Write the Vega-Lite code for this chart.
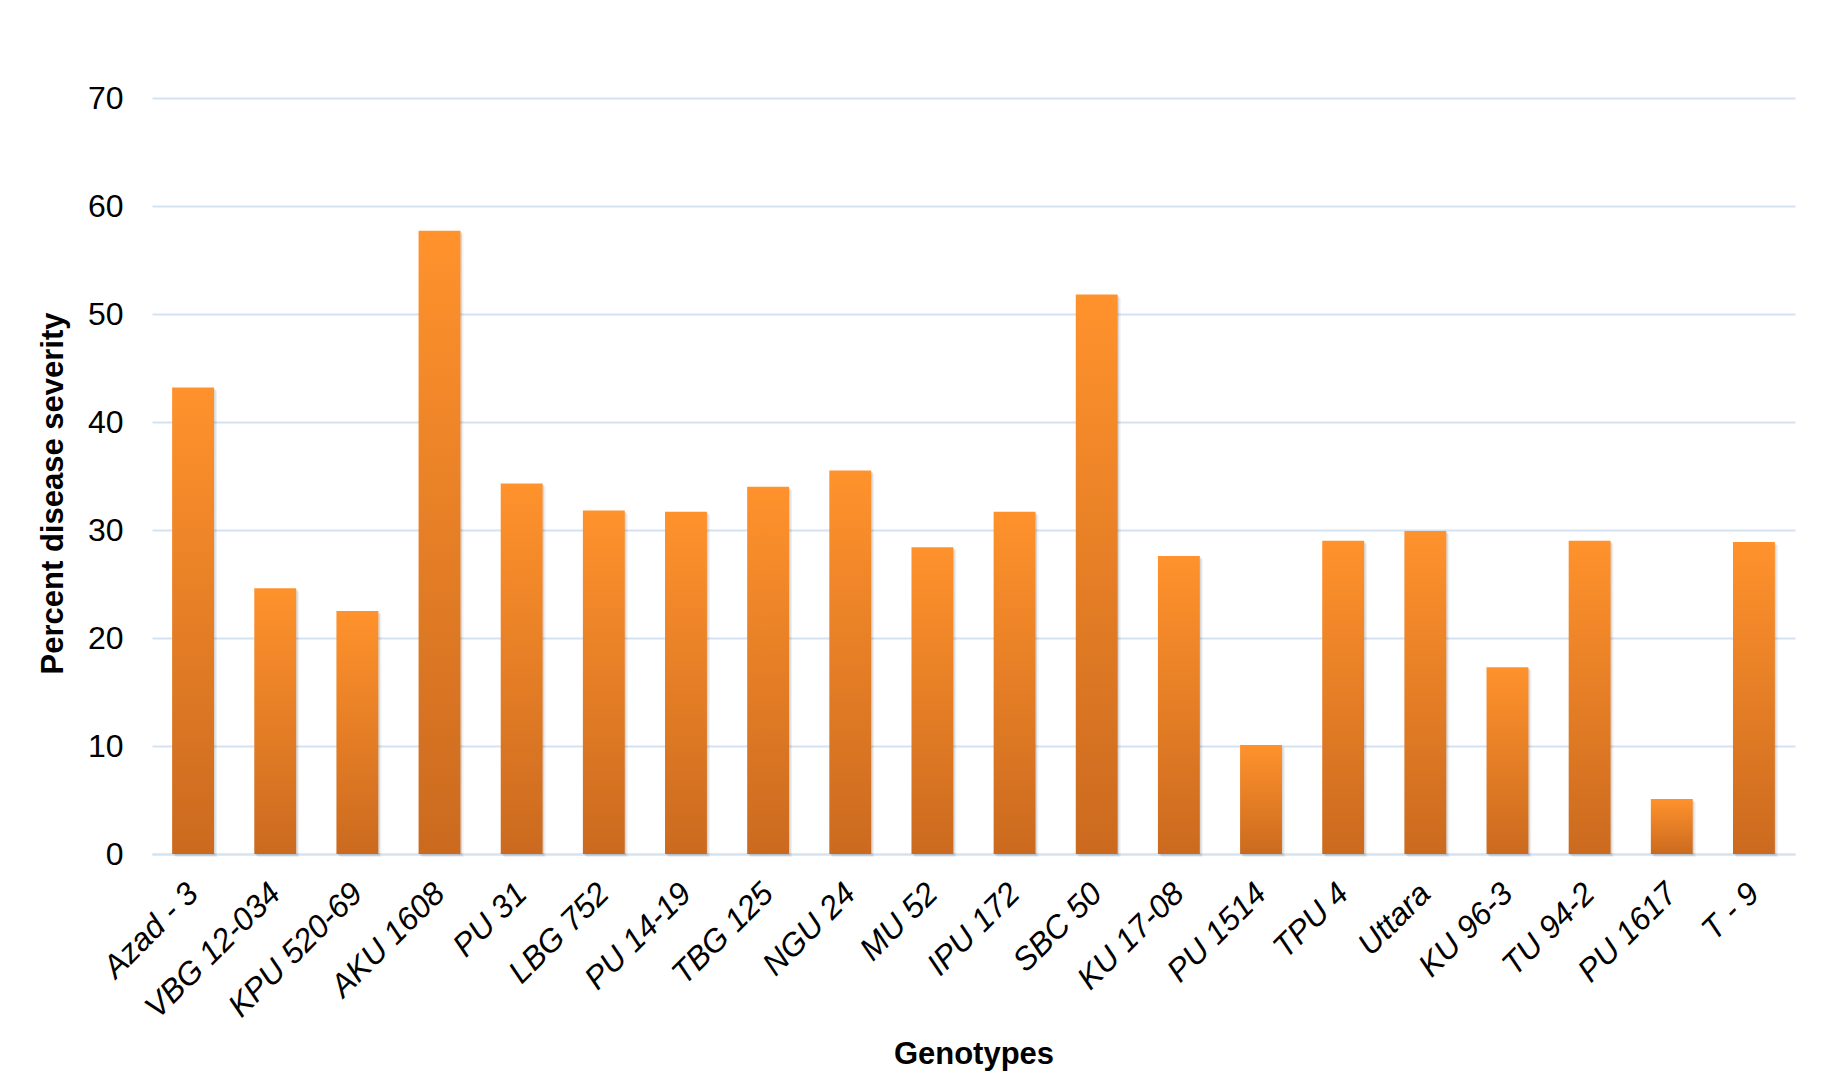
{
  "$schema": "https://vega.github.io/schema/vega-lite/v6.json",
  "autosize": {"type": "none"},
  "width": 1643,
  "height": 756,
  "padding": {"left": 152, "top": 98, "right": 28, "bottom": 238},
  "background": "#ffffff",
  "config": {
    "view": {"stroke": null},
    "font": "Liberation Sans",
    "axis": {"labelFont": "Liberation Sans", "titleFont": "Liberation Sans", "labelColor": "#000000", "titleColor": "#000000"}
  },
  "data": {
    "values": [
      {"genotype": "Azad - 3", "severity": 43.2},
      {"genotype": "VBG 12-034", "severity": 24.6},
      {"genotype": "KPU 520-69", "severity": 22.5},
      {"genotype": "AKU 1608", "severity": 57.7},
      {"genotype": "PU 31", "severity": 34.3},
      {"genotype": "LBG 752", "severity": 31.8},
      {"genotype": "PU 14-19", "severity": 31.7},
      {"genotype": "TBG 125", "severity": 34.0},
      {"genotype": "NGU 24", "severity": 35.5},
      {"genotype": "MU 52", "severity": 28.4},
      {"genotype": "IPU 172", "severity": 31.7},
      {"genotype": "SBC 50", "severity": 51.8},
      {"genotype": "KU 17-08", "severity": 27.6},
      {"genotype": "PU 1514", "severity": 10.1},
      {"genotype": "TPU 4", "severity": 29.0},
      {"genotype": "Uttara", "severity": 29.9},
      {"genotype": "KU 96-3", "severity": 17.3},
      {"genotype": "TU 94-2", "severity": 29.0},
      {"genotype": "PU 1617", "severity": 5.1},
      {"genotype": "T - 9", "severity": 28.9}
    ]
  },
  "encoding": {
    "x": {
      "field": "genotype",
      "type": "nominal",
      "sort": null,
      "scale": {"paddingInner": 0.49, "paddingOuter": 0.245},
      "axis": {
        "title": "Genotypes",
        "titleFontSize": 31,
        "titleFontWeight": "bold",
        "titleBaseline": "alphabetic",
        "titleY": 209,
        "labelAngle": -45,
        "labelAlign": "right",
        "labelBaseline": "middle",
        "labelFontSize": 32,
        "labelFontStyle": "italic",
        "labelPadding": 34,
        "labelOverlap": false,
        "ticks": false,
        "tickSize": 0,
        "domain": true,
        "domainColor": "#d5e2f2",
        "domainWidth": 2,
        "grid": false
      }
    },
    "y": {
      "field": "severity",
      "type": "quantitative",
      "scale": {"domain": [0, 70], "nice": false},
      "axis": {
        "title": "Percent disease severity",
        "titleFontSize": 31,
        "titleFontWeight": "bold",
        "titleBaseline": "alphabetic",
        "titleX": -90,
        "titleY": 395,
        "values": [0, 10, 20, 30, 40, 50, 60, 70],
        "labelFontSize": 32,
        "labelPadding": 29,
        "ticks": false,
        "tickSize": 0,
        "domain": false,
        "grid": true,
        "gridColor": "#d5e2f2",
        "gridWidth": 2
      }
    }
  },
  "layer": [
    {"mark": {"type": "bar", "color": "#000000", "opacity": 0.06, "xOffset": 3, "yOffset": 3}},
    {"mark": {"type": "bar", "color": "#000000", "opacity": 0.1, "xOffset": 1.5, "yOffset": 1.5}},
    {
      "mark": {
        "type": "bar",
        "color": {
          "gradient": "linear",
          "x1": 0, "y1": 0, "x2": 0, "y2": 1,
          "stops": [
            {"offset": 0, "color": "#ff922c"},
            {"offset": 1, "color": "#cb6a1f"}
          ]
        }
      }
    }
  ]
}
